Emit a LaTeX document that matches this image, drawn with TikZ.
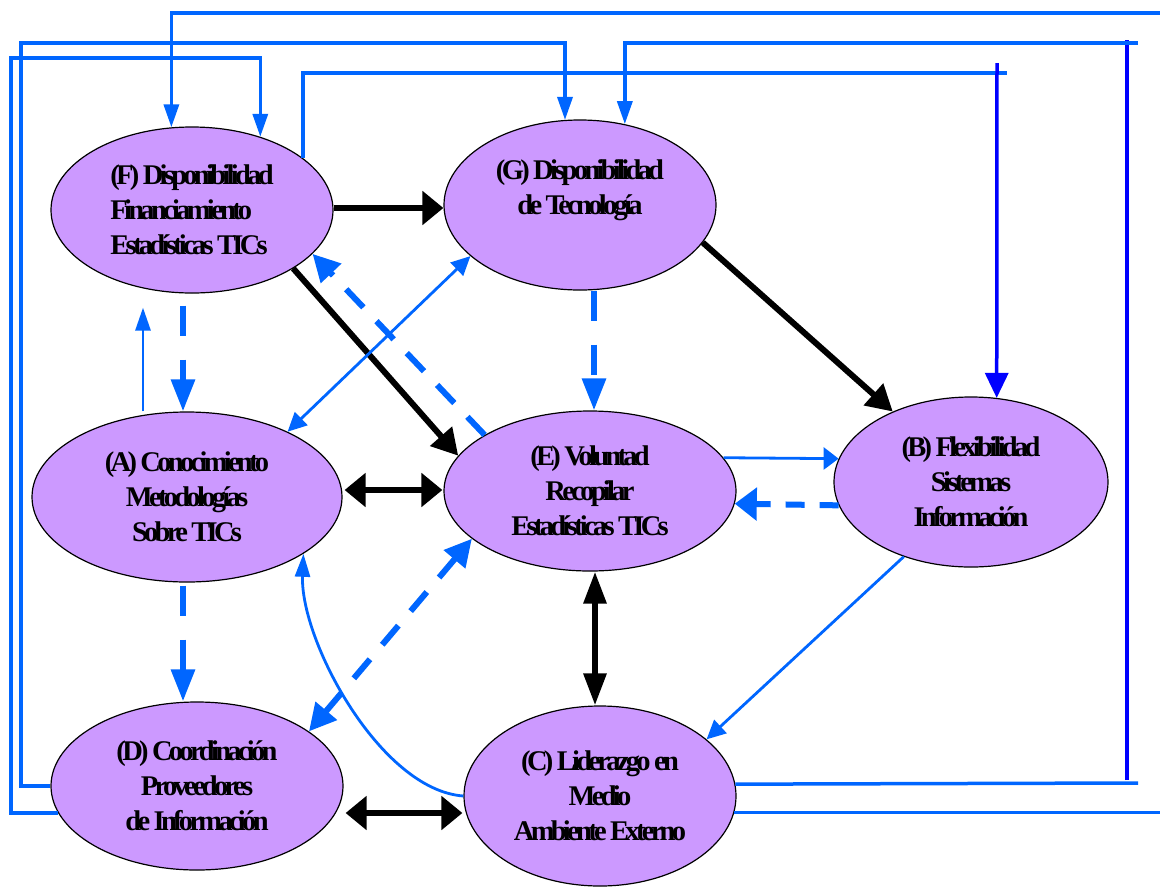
\documentclass[tikz,border=0pt]{standalone}
\usepackage{fontspec}
\newfontfamily\lblfont[LetterSpace=-13]{Liberation Serif}
\definecolor{lilac}{RGB}{204,153,255}
\definecolor{linkblue}{RGB}{0,102,255}
\definecolor{pureblue}{RGB}{0,0,255}
\usetikzlibrary{shapes.geometric, arrows.meta, calc}

\tikzset{
  tipBH/.tip={Triangle[length=21pt,width=33pt]},
  tipBV/.tip={Triangle[length=32pt,width=22pt]},
  tipBD/.tip={Triangle[length=26pt,width=28pt]},
  tipTV/.tip={Triangle[length=23pt,width=15pt]},
  tipTH/.tip={Triangle[length=15pt,width=22pt]},
  tipTD/.tip={Triangle[length=19pt,width=18pt]},
  tipDV/.tip={Triangle[length=32pt,width=23pt]},
  tipDH/.tip={Triangle[length=22pt,width=32pt]},
  tipDD/.tip={Triangle[length=27pt,width=27pt]},
  tipPV/.tip={Triangle[length=25pt,width=23pt]}
}

\begin{document}
\begin{tikzpicture}[x=1pt, y=-1pt,
    ell/.style={ellipse, draw=black, line width=1.2pt, fill=lilac, inner sep=0pt,
      font=\lblfont\bfseries\fontsize{28.5pt}{35pt}\selectfont, align=center},
    blk/.style={line width=6pt, black},
    thn/.style={line width=2.8pt, linkblue},
    route/.style={line width=3.5pt, linkblue},
    pure/.style={line width=3.5pt, pureblue},
    dashV/.style={line width=6pt, linkblue, dash pattern=on 30pt off 24pt},
    dashH/.style={line width=6pt, linkblue, dash pattern=on 19pt off 15pt},
    dashD/.style={line width=6pt, linkblue, dash pattern=on 25pt off 19pt}]
  \useasboundingbox (0,0) rectangle (1160,887);
  \clip (0,0) rectangle (1160,887);

  % Factors
  \node[ell, minimum width=282pt, minimum height=166pt, align=left] (F) at (192,210)
    {(F) Disponibilidad\\Financiamiento\\Estadísticas TICs};
  \node[ell, minimum width=272pt, minimum height=170pt] (G) at (580,205)
    {(G) Disponibilidad\\de Tecnología\\\mbox{}};
  \node[ell, minimum width=310pt, minimum height=170pt] (A) at (187,497)
    {(A) Conocimiento\\Metodologías\\Sobre TICs};
  \node[ell, minimum width=292pt, minimum height=160pt] (E) at (590,491)
    {(E) Voluntad\\Recopilar\\Estadísticas TICs};
  \node[ell, minimum width=274pt, minimum height=170pt] (B) at (971,482)
    {(B) Flexibilidad\\Sistemas\\Información};
  \node[ell, minimum width=292pt, minimum height=168pt] (D) at (197,786)
    {(D) Coordinación\\Proveedores\\de Información};
  \node[ell, minimum width=272pt, minimum height=180pt] (C) at (600,796)
    {(C) Liderazgo en\\Medio\\Ambiente Externo};

  % Strong links
  \draw[blk, -tipBH] ($(F.east)+(0,-2)$) -- ($(G.west)+(0,3)$);
  \draw[blk, -tipBD] (F.-30) -- (E.165);
  \draw[blk, -tipBD] (G.-17) -- (B.138);
  \draw[blk, tipBH-tipBH] ($(A.east)+(2,-7)$) -- ($(E.west)+(-1,-1)$);
  \draw[blk, tipBV-tipBV] ($(E.south)+(5,0)$) -- ($(C.north)+(-5,0)$);
  \draw[blk, tipBH-tipBH] ($(D.east)+(2,27)$) -- ($(C.west)+(-1,17)$);

  % Weak links
  \draw[thn, -tipTV] ($(A.north)+(-44,0)$) -- ($(F.south)+(-49,14)$);
  \draw[thn, tipTD-tipTD] (A.33) -- (G.205);
  \draw[thn, -tipTH] (E.14) -- (B.170);
  \draw[thn, -tipTD] (B.228) -- (C.28);
  \draw[thn, -tipTV] (C.west) .. controls (380,790) and (300,640) .. (A.-26);

  % Dashed links
  \draw[dashV, -tipDV] ($(F.south)+(-9,12)$) -- ($(A.north)+(-4,0)$);
  \draw[dashV, -tipDV] ($(A.south)+(-4,3)$) -- ($(D.north)+(-14,0)$);
  \draw[dashV, -tipDV] ($(G.south)+(14,0)$) -- ($(E.north)+(4,0)$);
  \draw[dashH, -tipDH] (B.190) -- (E.-5);
  \draw[dashD, -tipDD] (E.152) -- (F.-20);
  \draw[dashD, tipDD-tipDD] (D.26) -- (E.202);

  % Feedback loops round the border
  \coordinate (endFB) at (1007,73);
  \coordinate (topB) at (997,63);
  \coordinate (endCG) at (1138,783);
  \coordinate (railLo) at (1127,780);
  \coordinate (railHi) at (1127,40);
  \coordinate (startCG) at (1138,43);

  \draw[route, -tipTV] (C.-7) -| (1175,13) -| (F.104);
  \draw[route, -tipTV] (D.west) -| (21,43) -| (G.100);
  \draw[route, -tipTV] (D.191) -| (11,58) -| (F.47);
  \draw[route] (F.25) |- (endFB);
  \draw[pure, -tipPV] (topB) -- (B.73);
  \draw[route] (C.5) -- (endCG);
  \draw[pure] (railLo) -- (railHi);
  \draw[route, -tipTV] (startCG) -| (G.61);
\end{tikzpicture}
\end{document}
